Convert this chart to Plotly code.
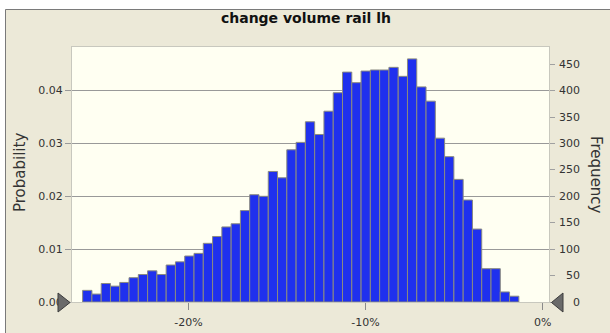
import plotly.graph_objects as go

# ---- data ----
title_text = "change volume rail lh"
bin_start = -25.97   # percent, left edge of first bin
bin_width = 0.524    # percent
frequency = [22, 15, 35, 30, 37, 46, 52, 59, 52, 70, 76, 87, 92, 111, 124, 142, 148,
             173, 203, 200, 247, 235, 288, 302, 341, 317, 361, 396, 435, 415, 437,
             439, 439, 444, 427, 460, 407, 380, 310, 275, 232, 193, 138, 63, 63, 19, 11]
trials = 10000
x_tick_vals = [-20, -10, 0]
x_tick_text = ["-20%", "-10%", "0%"]
prob_ticks = [0.00, 0.01, 0.02, 0.03, 0.04]
freq_ticks = [0, 50, 100, 150, 200, 250, 300, 350, 400, 450]

bin_centers = [bin_start + (i + 0.5) * bin_width for i in range(len(frequency))]

# ---- layout geometry (pixels) ----
W, H = 610, 333
L, R, T, B = 72, 61, 47, 31
pw, ph = W - L - R, H - T - B


def px(x):
    return (x - L) / pw


def py(y):
    return (H - B - y) / ph


freq_top = 482.5
x_range = [-26.57, 0.36]

BEIGE = "#ECE9D8"
IVORY = "#FFFFF2"
TXT = "#333333"
FONT = "DejaVu Sans"

fig = go.Figure()
fig.add_trace(go.Bar(
    x=bin_centers, y=frequency, width=bin_width, yaxis="y2",
    marker=dict(color="#1F30EE", line=dict(color="#8A8A80", width=1)),
    hoverinfo="skip",
))
# invisible trace to activate the left axis
fig.add_trace(go.Scatter(x=[x_range[0]], y=[0], mode="markers",
                         marker=dict(opacity=0), showlegend=False, hoverinfo="skip"))

shapes = [
    # white strip above and left of the frame
    dict(type="rect", xref="paper", yref="paper", x0=px(-10), x1=px(W + 10),
         y0=py(9), y1=py(-10), fillcolor="white", line=dict(width=0), layer="above"),
    dict(type="rect", xref="paper", yref="paper", x0=px(-10), x1=px(5),
         y0=py(H + 10), y1=py(-10), fillcolor="white", line=dict(width=0), layer="above"),
    # frame line
    dict(type="path", xref="paper", yref="paper",
         path=f"M {px(5.5)} {py(H + 10)} L {px(5.5)} {py(9.5)} L {px(W + 10)} {py(9.5)}",
         line=dict(color="#7A7A7A", width=1), layer="above"),
    # slider triangles
    dict(type="path", xref="paper", yref="paper",
         path=f"M {px(58)} {py(293)} L {px(70)} {py(302.5)} L {px(58)} {py(312)} Z",
         fillcolor="#6A6A6A", line=dict(color="#3C3C3C", width=1), layer="above"),
    dict(type="path", xref="paper", yref="paper",
         path=f"M {px(563)} {py(293)} L {px(551.5)} {py(302.5)} L {px(563)} {py(312)} Z",
         fillcolor="#6A6A6A", line=dict(color="#3C3C3C", width=1), layer="above"),
]

annotations = [
    dict(text="Probability", xref="paper", yref="paper", x=px(20), y=py(173),
         showarrow=False, textangle=-90, font=dict(family=FONT, size=15, color=TXT),
         xanchor="center", yanchor="middle"),
    dict(text="Frequency", xref="paper", yref="paper", x=px(596), y=py(175),
         showarrow=False, textangle=90, font=dict(family=FONT, size=15, color=TXT),
         xanchor="center", yanchor="middle"),
]
# right-aligned frequency tick labels, positioned on the y2 scale
for v in freq_ticks:
    annotations.append(dict(text=str(v), xref="paper", yref="y2", x=px(582), y=v,
                            showarrow=False, xanchor="right", yanchor="middle",
                            font=dict(family=FONT, size=11, color=TXT)))

fig.update_layout(
    width=W, height=H,
    margin=dict(l=L, r=R, t=T, b=B, pad=0, autoexpand=False),
    paper_bgcolor=BEIGE, plot_bgcolor=IVORY,
    showlegend=False, bargap=0,
    title=dict(text=f"<b>{title_text}</b>", x=306 / W, xanchor="center",
               y=1 - 18 / H, yanchor="middle", yref="container",
               font=dict(family=FONT, size=14, color="#111111")),
    font=dict(family=FONT, size=11, color=TXT),
    xaxis=dict(range=x_range, tickvals=x_tick_vals, ticktext=x_tick_text,
               ticks="outside", ticklen=7, tickcolor="#8A8A8A", showgrid=False,
               zeroline=False, showline=True, linecolor="#C8C8BE", mirror=True,
               ticklabelstandoff=3, automargin=False,
               tickfont=dict(size=11, color=TXT)),
    yaxis=dict(range=[0, freq_top / trials], tickvals=prob_ticks,
               ticktext=[f"{v:.2f}" for v in prob_ticks],
               ticks="outside", ticklen=6, tickcolor="#999999",
               showgrid=True, gridcolor="#999999", gridwidth=1, zeroline=False,
               showline=True, linecolor="#C8C8BE", mirror=True, automargin=False,
               tickfont=dict(size=11, color=TXT)),
    yaxis2=dict(range=[0, freq_top], tickvals=freq_ticks, overlaying="y", side="right",
                ticks="outside", ticklen=5, tickcolor="#A0A0A0", showgrid=False,
                showticklabels=False, zeroline=False, showline=False, automargin=False),
    shapes=shapes, annotations=annotations,
)

fig.write_html("out.html", config={"displayModeBar": False, "staticPlot": True},
               post_script="document.body.style.margin='0px';document.body.style.overflow='hidden';")
